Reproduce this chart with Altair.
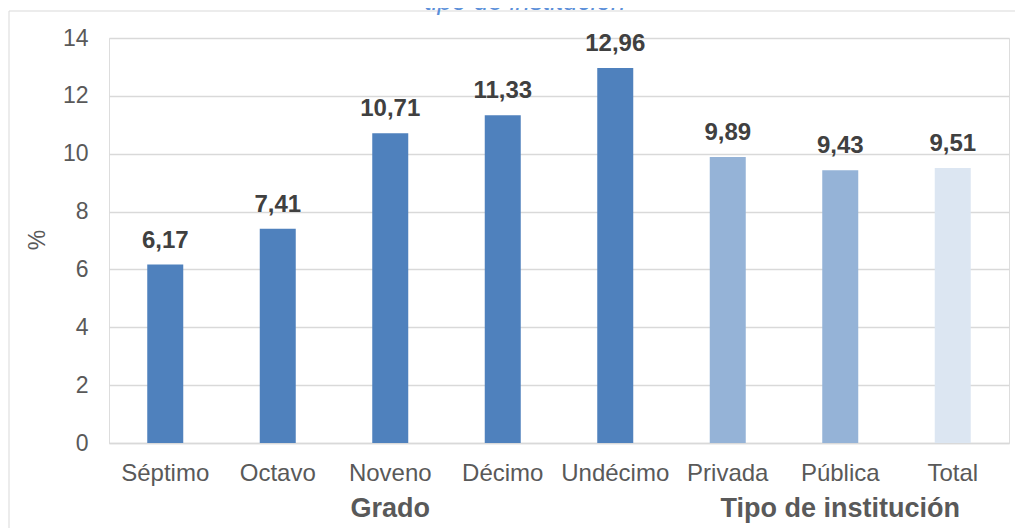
import altair as alt
import pandas as pd

categories = ["Séptimo", "Octavo", "Noveno", "Décimo", "Undécimo", "Privada", "Pública", "Total"]
values = [6.17, 7.41, 10.71, 11.33, 12.96, 9.89, 9.43, 9.51]
colors = ["#4F81BD"] * 5 + ["#95B3D7"] * 2 + ["#DCE6F2"]
group_names = ["Grado", "Tipo de institución"]
group_centers = ["Noveno", "Pública"]
y_ticks = [0, 2, 4, 6, 8, 10, 12, 14]
title_text = "tipo de institución"
y_title = "%"

FONT = "Liberation Sans"

df = pd.DataFrame({
    "cat": categories,
    "val": values,
    "color": colors,
    "label": [f"{v:.2f}".replace(".", ",") for v in values],
})
groups_df = pd.DataFrame({"cat": group_centers, "name": group_names})

x_enc = alt.X(
    "cat:N",
    scale=alt.Scale(domain=categories, paddingInner=0.68, paddingOuter=0.34),
    axis=alt.Axis(
        title=None, labelAngle=0, labelFontSize=24, labelColor="#595959",
        labelFont=FONT, ticks=False, labelPadding=18, domainColor="#d9d9d9",
        domainWidth=1.5, grid=False,
    ),
)
y_enc = alt.Y(
    "val:Q",
    scale=alt.Scale(domain=[0, 14], nice=False),
    axis=alt.Axis(
        title=None, values=y_ticks, format="d", labelFontSize=23,
        labelColor="#595959", labelFont=FONT, labelPadding=21, ticks=False,
        domain=False, gridColor="#d9d9d9", gridWidth=1.3,
    ),
)

border = alt.Chart(alt.Data(values=[{}])).mark_rect(
    filled=False, stroke="#d9d9d9", strokeWidth=1
).encode(
    x=alt.value(-100), x2=alt.value(1100), y=alt.value(-27), y2=alt.value(700)
)

bars = alt.Chart(df).mark_bar().encode(
    x=x_enc, y=y_enc, color=alt.Color("color:N", scale=None)
)

labels = alt.Chart(df).mark_text(
    fontSize=24, fontWeight="bold", color="#404040", font=FONT,
    baseline="alphabetic", dy=-17,
).encode(x=alt.X("cat:N", scale=alt.Scale(domain=categories)), y="val:Q", text="label:N")

groups = alt.Chart(groups_df).mark_text(
    fontSize=27, fontWeight="bold", color="#595959", font=FONT, baseline="alphabetic",
).encode(x=alt.X("cat:N", scale=alt.Scale(domain=categories)), y=alt.value(479), text="name:N")

pct = alt.Chart(alt.Data(values=[{"t": y_title}])).mark_text(
    fontSize=23, color="#595959", font=FONT, angle=270, baseline="middle", align="center",
).encode(x=alt.value(-71), y=alt.value(202), text="t:N")

title = alt.Chart(alt.Data(values=[{"t": title_text}])).mark_text(
    fontSize=26, fontStyle="italic", color="#5B8FD9", font=FONT, baseline="alphabetic",
    align="center",
).encode(x=alt.value(416), y=alt.value(-28), text="t:N")

chart = alt.layer(border, bars, labels, groups, pct, title).properties(
    width=900, height=405,
    autosize=alt.AutoSizeParams(type="none"),
    padding={"left": 101, "top": 30, "right": 6, "bottom": 85},
).configure_view(stroke=None).configure(font=FONT)

chart.save("out.html", embed_options={"renderer": "svg", "actions": False})
